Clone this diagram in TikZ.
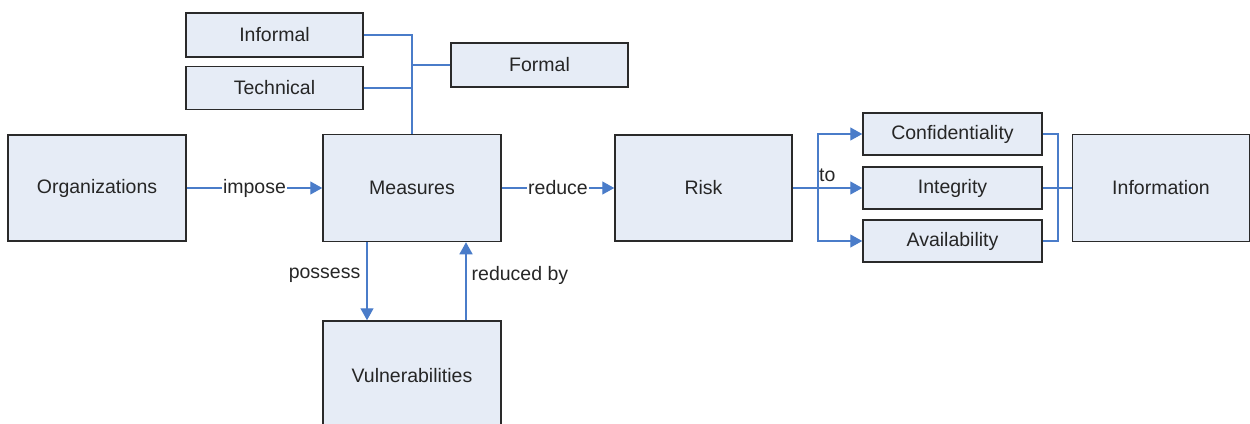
\documentclass[tikz,border=0pt]{standalone}
\usepackage{fontspec}
\setmainfont{Liberation Sans}
\usetikzlibrary{arrows.meta,calc}
\definecolor{boxfill}{HTML}{E6ECF6}
\definecolor{linkblue}{HTML}{4A7CC9}
\definecolor{boxline}{HTML}{2A2A2A}
\tikzset{
  box/.style={draw=boxline,line width=1.5pt,fill=boxfill,inner sep=0pt,font=\fontsize{19.5}{22}\selectfont,text=black!85},
  link/.style={draw=linkblue,line width=1.4pt},
  arr/.style={link,-{Triangle[width=13pt,length=12pt]}},
  lbl/.style={font=\fontsize{19.5}{22}\selectfont,text=black!85,inner sep=1pt},
}
\begin{document}
\begin{tikzpicture}[x=1pt,y=-1pt]
\useasboundingbox (0,0) rectangle (1250,423);
\clip (0,0) rectangle (1250,423);
% nodes
\node[box,minimum width=177pt,minimum height=44pt] (informal) at (274.5,35) {Informal};
\node[box,minimum width=177pt,minimum height=43pt] (technical) at (274.5,88) {Technical};
\node[box,minimum width=177pt,minimum height=44pt] (formal) at (539.5,65) {Formal};
\node[box,minimum width=178pt,minimum height=106pt] (org) at (97,188) {Organizations};
\node[box,minimum width=178pt,minimum height=107pt] (meas) at (412,188) {Measures};
\node[box,minimum width=177pt,minimum height=106pt] (risk) at (703.5,188) {Risk};
\node[box,minimum width=177pt,minimum height=107pt] (info) at (1161,188) {Information};
\node[box,minimum width=178pt,minimum height=110pt] (vul) at (412,376) {Vulnerabilities};
\node[box,minimum width=179pt,minimum height=42pt] (conf) at (952.5,134) {Confidentiality};
\node[box,minimum width=179pt,minimum height=42pt] (integ) at (952.5,188) {Integrity};
\node[box,minimum width=179pt,minimum height=42pt] (avail) at (952.5,241) {Availability};
% helper coordinates
\coordinate (pa) at (367,0);
\coordinate (ra) at (466,0);
\coordinate (br) at (818,188);
\coordinate (rj) at (1058,188);
% top bus
\draw[link] (informal.east) -| (meas.north);
\draw[link] (technical.east) -- (technical.east -| meas.north);
\draw[link] (formal.west) -- (formal.west -| meas.north);
% main flow
\draw[arr] (org.east) -- node[lbl,fill=white] {impose} (meas.west);
\draw[arr] (meas.east) -- node[lbl,fill=white] {reduce} (risk.west);
% possess / reduced by
\draw[arr] (meas.south -| pa) -- node[lbl,left,pos=0.42,xshift=-5pt] {possess} (vul.north -| pa);
\draw[arr] (vul.north -| ra) -- node[lbl,right,pos=0.58,xshift=4pt] {reduced by} (meas.south -| ra);
% risk branches
\draw[link] (risk.east) -- (br);
\node[lbl,anchor=south west] (tolbl) at ($(br)+(0,-5)$) {to};
\draw[arr] (br) |- (conf.west);
\draw[arr] (br) -- (integ.west);
\draw[arr] (br) |- (avail.west);
% right junction
\draw[link] (conf.east) -| (rj) |- (avail.east);
\draw[link] (integ.east) -- (info.west);
\end{tikzpicture}
\end{document}
